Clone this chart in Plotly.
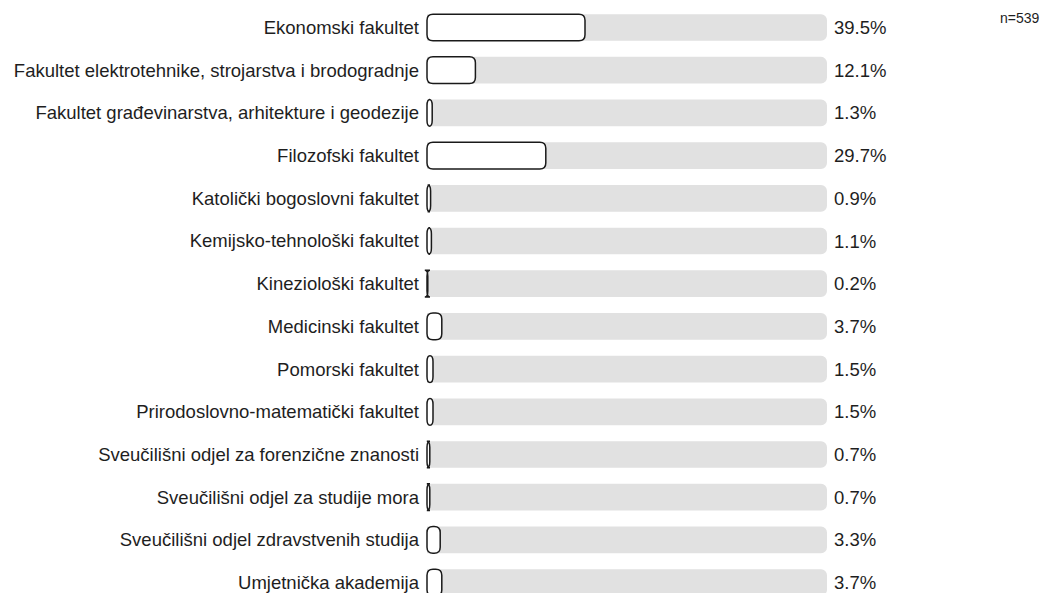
import plotly.graph_objects as go

categories = [
    "Ekonomski fakultet",
    "Fakultet elektrotehnike, strojarstva i brodogradnje",
    "Fakultet građevinarstva, arhitekture i geodezije",
    "Filozofski fakultet",
    "Katolički bogoslovni fakultet",
    "Kemijsko-tehnološki fakultet",
    "Kineziološki fakultet",
    "Medicinski fakultet",
    "Pomorski fakultet",
    "Prirodoslovno-matematički fakultet",
    "Sveučilišni odjel za forenzične znanosti",
    "Sveučilišni odjel za studije mora",
    "Sveučilišni odjel zdravstvenih studija",
    "Umjetnička akademija",
]
percent = [39.5, 12.1, 1.3, 29.7, 0.9, 1.1, 0.2, 3.7, 1.5, 1.5, 0.7, 0.7, 3.3, 3.7]
full_scale = [100] * len(categories)
sample_note = "n=539"

FONT = "Liberation Sans, Arial, sans-serif"
TEXT = "#1e1e1e"
W, H = 1048, 593
L, R = 413, 229
X_RANGE = [-1.5, 100]   # a little room left of zero so small bar ends are not clipped
Y_RANGE = [13.431, -0.457]
BAR_W = 0.625
RADIUS = 6      # px
MIN_RADIUS = 3  # px, tiny bars keep this so their ends flare like the original

# px -> data unit conversions for the rounded bar outlines
px_x = (X_RANGE[1] - X_RANGE[0]) / (W - L - R)
px_y = (Y_RANGE[0] - Y_RANGE[1]) / H


def rounded_bar(i, value):
    x0, x1 = 0, value
    y0, y1 = i - BAR_W / 2, i + BAR_W / 2
    rx = min(RADIUS * px_x, max(value / 2, MIN_RADIUS * px_x))
    ry = RADIUS * px_y
    return (f"M {x0 + rx},{y0} L {x1 - rx},{y0} Q {x1},{y0} {x1},{y0 + ry} "
            f"L {x1},{y1 - ry} Q {x1},{y1} {x1 - rx},{y1} L {x0 + rx},{y1} "
            f"Q {x0},{y1} {x0},{y1 - ry} L {x0},{y0 + ry} Q {x0},{y0} {x0 + rx},{y0} Z")


fig = go.Figure()
# grey track behind each bar
fig.add_trace(go.Bar(y=categories, x=full_scale, orientation="h", width=BAR_W,
                     marker=dict(color="#e1e1e1", cornerradius=RADIUS, line=dict(width=0)),
                     hoverinfo="skip", showlegend=False))
# invisible value bars for hover; the visible outline is drawn as rounded shapes
fig.add_trace(go.Bar(y=categories, x=percent, orientation="h", width=BAR_W,
                     marker=dict(color="rgba(255,255,255,0)", line=dict(width=0)),
                     hovertemplate="%{y}: %{x}%<extra></extra>", showlegend=False))

for i, p in enumerate(percent):
    fig.add_shape(type="path", path=rounded_bar(i, p), xref="x", yref="y",
                  fillcolor="white", line=dict(color="#1a1a1a", width=1.5), layer="above")
    fig.add_annotation(x=100, y=categories[i], text=f"{p:.1f}%", showarrow=False,
                       xanchor="left", xshift=5, font=dict(size=18.5, color=TEXT))

fig.add_annotation(x=(W - 14 - L) / (W - L - R), y=1, xref="paper", yref="paper",
                   text=sample_note, showarrow=False, xanchor="right", yanchor="top",
                   font=dict(size=14, color=TEXT))

fig.update_layout(
    width=W, height=H, barmode="overlay",
    margin=dict(l=L, r=R, t=0, b=0),
    paper_bgcolor="white", plot_bgcolor="white",
    font=dict(family=FONT, size=18.5, color=TEXT),
)
fig.update_xaxes(range=X_RANGE, visible=False, fixedrange=True)
fig.update_yaxes(range=Y_RANGE, showgrid=False, zeroline=False, automargin=False,
                 ticks="", ticklabelstandoff=1, showline=False)

fig.write_html("out.html")
